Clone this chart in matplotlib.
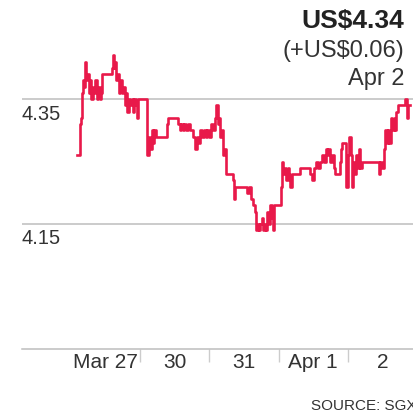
import matplotlib
matplotlib.use("Agg")
import matplotlib.pyplot as plt
import matplotlib.transforms as mtransforms

plt.rcParams["font.family"] = ["Liberation Sans", "DejaVu Sans"]

# trading-day position (0 = Mar 27, 1 = Mar 30, ...) and price in US$
day_pos = [
    0.09, 0.135, 0.15, 0.17, 0.18, 0.20, 0.215, 0.225, 0.24, 0.26,
    0.28, 0.30, 0.32, 0.34, 0.36, 0.38, 0.40, 0.42, 0.44, 0.46,
    0.60, 0.615, 0.63, 0.645, 0.66, 0.68, 0.70, 0.72, 0.74, 0.76,
    0.78, 0.80, 0.82, 0.84, 0.86, 0.88, 0.90, 0.92, 0.94, 0.96,
    0.98, 1.11, 1.13, 1.15, 1.17, 1.19, 1.21, 1.23, 1.39, 1.41,
    1.55, 1.58, 1.60, 1.62, 1.64, 1.67, 1.70, 1.73, 1.76, 1.79,
    1.83, 1.85, 1.87, 1.89, 1.92, 1.95, 1.97, 2.00, 2.02, 2.05,
    2.08, 2.10, 2.12, 2.14, 2.16, 2.18, 2.20, 2.22, 2.24, 2.34,
    2.36, 2.37, 2.55, 2.58, 2.60, 2.63, 2.66, 2.68, 2.70, 2.72,
    2.74, 2.76, 2.78, 2.80, 2.82, 2.84, 2.86, 2.88, 2.90, 2.92,
    2.94, 3.03, 3.05, 3.07, 3.09, 3.11, 3.13, 3.15, 3.17, 3.19,
    3.31, 3.45, 3.48, 3.51, 3.54, 3.57, 3.60, 3.63, 3.66, 3.68,
    3.70, 3.72, 3.74, 3.77, 3.80, 3.82, 3.88, 3.90, 3.92, 3.98,
    4.00, 4.02, 4.04, 4.06, 4.08, 4.10, 4.12, 4.14, 4.16, 4.18,
    4.20, 4.45, 4.47, 4.50, 4.52, 4.54, 4.56, 4.58, 4.60, 4.62,
    4.64, 4.66, 4.68, 4.70, 4.73, 4.83, 4.85, 4.86, 4.875, 4.90,
]
price = [
    4.26, 4.31, 4.32, 4.36, 4.38, 4.37, 4.41, 4.38, 4.39, 4.36,
    4.38, 4.35, 4.37, 4.36, 4.38, 4.35, 4.37, 4.35, 4.36, 4.39,
    4.40, 4.42, 4.40, 4.41, 4.38, 4.39, 4.36, 4.38, 4.36, 4.37,
    4.34, 4.36, 4.33, 4.35, 4.34, 4.35, 4.33, 4.35, 4.34, 4.32,
    4.35, 4.26, 4.29, 4.27, 4.30, 4.28, 4.30, 4.29, 4.31, 4.32,
    4.31, 4.30, 4.31, 4.30, 4.31, 4.30, 4.31, 4.30, 4.29, 4.27,
    4.29, 4.28, 4.30, 4.29, 4.30, 4.29, 4.30, 4.29, 4.31, 4.30,
    4.32, 4.34, 4.31, 4.32, 4.29, 4.30, 4.26, 4.27, 4.23, 4.22,
    4.19, 4.21, 4.20, 4.21, 4.19, 4.18, 4.17, 4.14, 4.15, 4.14,
    4.15, 4.16, 4.14, 4.15, 4.14, 4.17, 4.15, 4.18, 4.16, 4.14,
    4.18, 4.21, 4.25, 4.23, 4.24, 4.22, 4.24, 4.23, 4.21, 4.23,
    4.24, 4.23, 4.22, 4.24, 4.25, 4.24, 4.25, 4.26, 4.25, 4.27,
    4.26, 4.27, 4.25, 4.26, 4.24, 4.23, 4.25, 4.27, 4.28, 4.21,
    4.26, 4.29, 4.26, 4.21, 4.25, 4.23, 4.26, 4.24, 4.27, 4.24,
    4.25, 4.23, 4.25, 4.24, 4.27, 4.30, 4.28, 4.30, 4.28, 4.32,
    4.30, 4.32, 4.30, 4.33, 4.34, 4.35, 4.34, 4.32, 4.34, 4.34,
]

day_labels = ["Mar 27", "30", "31", "Apr 1", "2"]
grid_values = [4.15, 4.35]
grid_labels = ["4.15", "4.35"]

last_price = "US$4.34"
change = "(+US$0.06)"
last_date = "Apr 2"
source = "SOURCE: SGX"

fig = plt.figure(figsize=(4.13, 4.13), dpi=100)
ax = fig.add_axes([22 / 413, 1 - 349 / 413, 1 - 22 / 413, (349 - 36.5) / 413])

ax.plot(day_pos, price, drawstyle="steps-post", color="#e8194a", lw=1.9, zorder=3)

ax.set_xlim(-0.70, 4.94)
ax.set_ylim(3.95, 4.45)

trans = mtransforms.blended_transform_factory(ax.transAxes, ax.transData)
for v, lab in zip(grid_values, grid_labels):
    ax.axhline(v, color="#bdbdbd", lw=1.1, zorder=1)
    ax.text(0, v - 0.024, lab, transform=trans, ha="left", va="center",
            fontsize=14.5, color="#333333")

for side in ["top", "right", "left"]:
    ax.spines[side].set_visible(False)
ax.spines["bottom"].set_color("#bdbdbd")
ax.spines["bottom"].set_linewidth(1.1)
ax.set_yticks([])

ax.set_xticks(range(1, len(day_labels)))
ax.set_xticklabels([])
ax.tick_params(axis="x", which="major", length=9, width=1, color="#cccccc")
ax.set_xticks([i + 0.5 for i in range(len(day_labels))], minor=True)
ax.set_xticklabels(day_labels, minor=True)
ax.tick_params(axis="x", which="minor", length=0, pad=3, labelsize=15, labelcolor="#333333")

fig.text(404 / 413, 1 - 28 / 413, last_price, ha="right", va="baseline",
         fontsize=19, fontweight="bold", color="#222222")
fig.text(404 / 413, 1 - 57.5 / 413, change, ha="right", va="baseline",
         fontsize=17, color="#333333")
fig.text(404 / 413, 1 - 85 / 413, last_date, ha="right", va="baseline",
         fontsize=17, color="#333333")
# source line runs off the right edge, as in the original
fig.text(311 / 413, 1 - 410 / 413, source, ha="left", va="baseline",
         fontsize=11, color="#333333")

fig.savefig("out.png", dpi=100)
